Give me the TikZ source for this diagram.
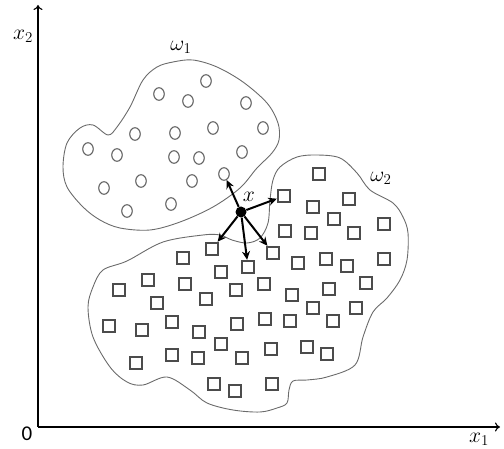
\documentclass[tikz,border=0pt]{standalone}
\usepackage{fontspec}
\newfontfamily\digitfont{Carlito}
\usetikzlibrary{arrows.meta,shapes.geometric}

% math labels are drawn larger than the math fonts allow
\newcommand{\biglabel}[1]{\scalebox{1.25}{$#1$}}

\begin{document}
\begin{tikzpicture}[x=1pt, y=-1pt,
            axis/.style={color=black, line width=1.1pt, -{To[length=5pt,width=9pt]}},
            region/.style={draw=black!58, line width=0.9pt},
            classone/.style={draw=black!62, line width=1.1pt, ellipse, minimum width=10.5pt, minimum height=12.5pt, inner sep=0pt},
            classtwo/.style={draw=black!70, line width=2.4pt, rectangle, minimum size=12pt, inner sep=0pt},
            query/.style={circle, fill=black, minimum size=11pt, inner sep=0pt},
            neighbour/.style={color=black, line width=2pt, -{Stealth[length=8.5pt,width=8pt]}},
            lbl/.style={font=\fontsize{17}{20}\selectfont, inner sep=0pt}
        ]
            \useasboundingbox (0,0) rectangle (504,449);

            % axes
            \coordinate (O) at (38,427);
            \coordinate (xend) at (500,427);
            \coordinate (yend) at (38,5);
            \draw[axis] (O) -- (xend);
            \draw[axis] (O) -- (yend);
            \node[lbl, font=\fontsize{21}{25}\selectfont] (zero) at (27,434) {\digitfont 0};
            \node[lbl] (xone) at (479,439) {\biglabel{x_1}};
            \node[lbl] (xtwo) at (23,36) {\biglabel{x_2}};

            % class regions
            \draw[region] plot[smooth cycle, tension=0.55] coordinates {
                (279,140) (272,153) (257,168) (240,188) (213,207) (180,222)
                (150,230) (120,228) (100,220) (83,207) (67,187) (63,167)
                (67,143) (80,128) (93,125) (108,135) (117,127) (130,107)
                (143,80) (157,67) (173,62) (193,60) (217,67) (243,82)
                (267,103) (278,123)};
            \draw[region] plot[smooth cycle, tension=0.55] coordinates {
                (273,180) (280,167) (297,157) (317,155) (340,158) (357,173)
                (370,190) (393,203) (403,217) (408,233) (407,260) (400,280)
                (387,298) (373,312) (363,337) (355,365) (327,377) (307,380)
                (293,381) (289,390) (287,403) (277,408) (260,412) (233,410)
                (207,403) (190,390) (167,377) (143,385) (127,382) (110,367)
                (93,337) (88,307) (93,287) (103,270) (127,261) (163,242)
                (203,235) (220,235) (232,240) (247,243) (260,238) (268,223)
                (270,200)};
            \node[lbl] (wone) at (181,47) {\biglabel{\omega_1}};
            \node[lbl] (wtwo) at (381,178) {\biglabel{\omega_2}};

            % class 1 samples
            \foreach \p [count=\i] in {(206,81), (159,94), (188,101), (246,103), (135,134),
                (175,133), (213,128), (263,128), (88,149), (117,155), (174,157), (199,158),
                (242,152), (224,174), (104,188), (141,181), (192,181), (171,204), (127,211)}{
                \node[classone] (o\i) at \p {};
            }

            % class 2 samples
            \foreach \p [count=\i] in {(319,174), (284,196), (313,207), (349,199), (334,219),
                (384,224), (285,231), (311,233), (354,233),
                (212,249), (183,258), (248,267), (273,253), (298,263), (326,259), (347,266), (384,259),
                (221,272), (148,280), (119,290), (185,284), (236,290), (264,284), (292,295), (329,289), (366,283),
                (157,303), (206,299), (313,308), (356,308),
                (109,326), (142,330), (172,322), (199,332), (237,324), (265,319), (290,321), (333,321),
                (221,344), (271,349), (307,347), (327,354),
                (136,363), (172,355), (198,358), (242,358),
                (214,384), (235,391), (272,384)}{
                \node[classtwo] (s\i) at \p {};
            }

            % query point and its nearest neighbours
            \node[query] (q) at (241,212) {};
            \node[lbl] (qlabel) at (249,197) {\biglabel{x}};
            \draw[neighbour] (q) -- (o14);
            \draw[neighbour] (q) -- (s2);
            \draw[neighbour] (q) -- (s10);
            \draw[neighbour] (q) -- (s12);
            \draw[neighbour] (q) -- (s13);

        \end{tikzpicture}
\end{document}
